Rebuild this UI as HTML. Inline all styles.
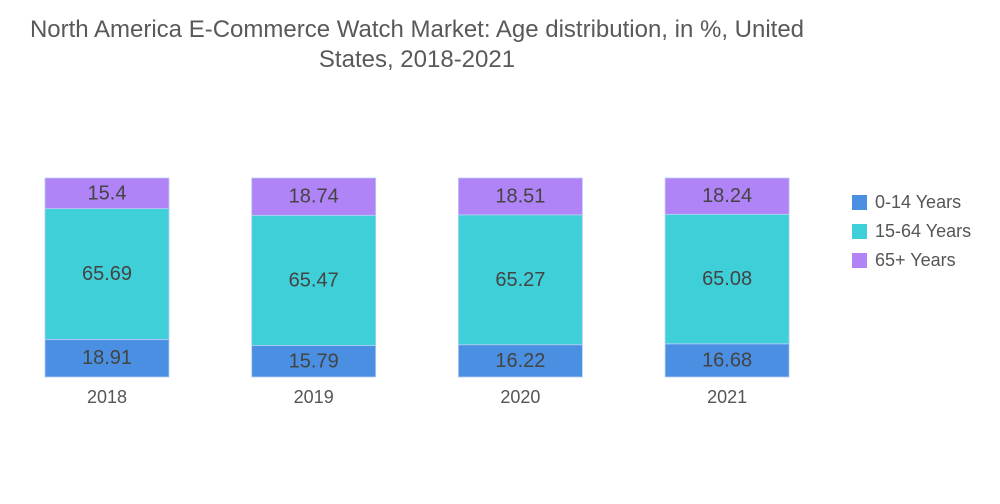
<!DOCTYPE html>
<html><head><meta charset="utf-8"><style>
body{margin:0;background:#fff;font-family:"Liberation Sans",sans-serif}
#wrap{position:relative;width:1000px;height:504px;overflow:hidden}
#title{position:absolute;left:0;top:15px;width:834px;text-align:center;font-size:24px;line-height:30px;color:#595959}
</style></head><body>
<div id="wrap">
<div id="title">North America E-Commerce Watch Market: Age distribution, in %, United<br>States, 2018-2021</div>
<svg id="svg" width="1000" height="504" style="position:absolute;left:0;top:0"></svg>
</div>
<script>
const categories=["2018","2019","2020","2021"];
const seriesNames=["0-14 Years","15-64 Years","65+ Years"];
const s0=[18.91,15.79,16.22,16.68];
const s1=[65.69,65.47,65.27,65.08];
const s2=[15.4,18.74,18.51,18.24];
const colors=["#4a8fe2","#3ecfd8","#b083f6"];
const series=[s0,s1,s2];
const NS="http://www.w3.org/2000/svg";
const svg=document.getElementById('svg');
const baseY=377, pxPer=1.99, x0=45, step=206.7, bw=124;
function yScale(v){return baseY-v*pxPer;}
function xScale(i){return x0+i*step;}
function mk(t,a){const e=document.createElementNS(NS,t);for(const k in a)e.setAttribute(k,a[k]);svg.appendChild(e);return e;}
categories.forEach((c,i)=>{
  let cum=0;
  series.forEach((s,j)=>{
    const y1=yScale(cum), y2=yScale(cum+s[i]);
    const r=mk('rect',{x:xScale(i),y:y2,width:bw,height:y1-y2,fill:colors[j],stroke:'#b8cef5','stroke-width':0.8});
    
    
    const t=mk('text',{x:xScale(i)+bw/2,y:(y1+y2)/2+6,'text-anchor':'middle','font-size':20,fill:'#444','font-family':'Liberation Sans, sans-serif'});
    t.textContent=String(s[i]);
    
    
    cum+=s[i];
  });
  const l=mk('text',{x:xScale(i)+bw/2,y:403,'text-anchor':'middle','font-size':18,fill:'#555','font-family':'Liberation Sans, sans-serif'});
  l.textContent=c;
  
  
});
seriesNames.forEach((n,j)=>{
  const r=mk('rect',{x:852,y:195+j*29,width:15,height:15,fill:colors[j]});
  
  
  const t=mk('text',{x:875,y:208+j*29,'font-size':18,fill:'#555','font-family':'Liberation Sans, sans-serif'});
  t.textContent=n;
  
  
});
</script>
</body></html>
